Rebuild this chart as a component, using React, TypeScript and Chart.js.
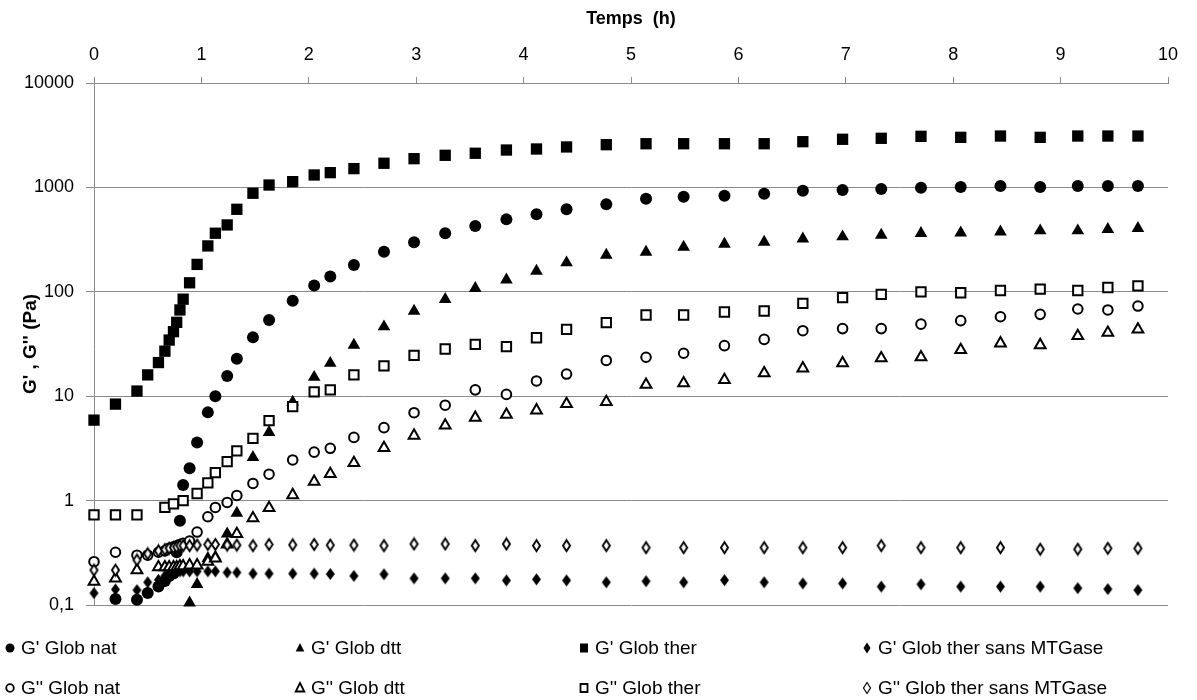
import React, { useEffect, useRef } from 'react';
import { Chart, registerables } from 'chart.js';

Chart.register(...registerables);

// ---- Data (time in hours, moduli in Pa) ----
const timeH = [0, 0.2, 0.4, 0.5, 0.6, 0.66, 0.7, 0.74, 0.77, 0.8, 0.83, 0.89, 0.96, 1.06, 1.13, 1.24, 1.33, 1.48, 1.63, 1.85, 2.05, 2.2, 2.42, 2.7, 2.98, 3.27, 3.55, 3.84, 4.12, 4.4, 4.77, 5.14, 5.49, 5.87, 6.24, 6.6, 6.97, 7.33, 7.7, 8.07, 8.44, 8.81, 9.16, 9.44, 9.72];

const gpGlobNat = [null, 0.114, 0.112, 0.13, 0.15, 0.17, 0.19, 0.2, 0.32, 0.64, 1.41, 2.04, 3.6, 7.0, 10, 15.6, 22.9, 36.6, 53.7, 82, 115, 140, 181, 242, 298, 363, 427, 494, 552, 617, 689, 780, 815, 832, 870, 930, 944, 966, 994, 1008, 1031, 1008, 1031, 1031, 1031];

const gpGlobDtt = [null, null, null, null, null, null, null, null, null, null, null, 0.105, 0.158, 0.28, 0.29, 0.48, 0.76, 2.6, 4.5, 8.8, 15.2, 20.7, 30.9, 46.3, 65.5, 84.7, 108, 130, 158, 190, 225, 240, 268, 287, 300, 322, 337, 350, 363, 368, 376, 385, 385, 397, 405];

const gpGlobTher = [5.9, 8.4, 11.2, 16, 21, 27, 34.5, 41.5, 51, 67, 85, 122, 183, 275, 364, 437, 617, 879, 1054, 1135, 1315, 1385, 1513, 1703, 1885, 2030, 2123, 2280, 2333, 2440, 2565, 2620, 2620, 2620, 2620, 2740, 2890, 2953, 3085, 3017, 3105, 3017, 3105, 3105, 3105];

const gpGlobTherSans = [0.13, 0.141, 0.139, 0.165, 0.174, 0.19, 0.2, 0.205, 0.21, 0.21, 0.21, 0.21, 0.21, 0.21, 0.21, 0.205, 0.205, 0.2, 0.2, 0.2, 0.2, 0.198, 0.19, 0.197, 0.18, 0.18, 0.18, 0.172, 0.176, 0.172, 0.165, 0.169, 0.165, 0.173, 0.165, 0.161, 0.161, 0.15, 0.158, 0.15, 0.15, 0.15, 0.145, 0.142, 0.139];

const gsGlobNat = [0.26, 0.32, 0.3, 0.3, 0.32, 0.33, 0.35, 0.36, 0.37, 0.38, 0.39, 0.41, 0.5, 0.7, 0.86, 0.96, 1.12, 1.46, 1.79, 2.45, 2.91, 3.17, 4.03, 5.0, 6.95, 8.2, 11.5, 10.4, 14, 16.3, 22, 23.6, 25.8, 30.5, 35, 42.4, 44.4, 44.4, 49, 52.9, 57.7, 60.8, 68.4, 67, 73];

const gsGlobDtt = [0.167, 0.18, 0.216, null, 0.23, 0.23, 0.23, 0.23, 0.23, 0.235, 0.235, 0.24, 0.24, 0.26, 0.28, 0.38, 0.48, 0.68, 0.85, 1.13, 1.52, 1.8, 2.3, 3.2, 4.2, 5.26, 6.22, 6.65, 7.33, 8.42, 8.8, 12.9, 13.3, 14.3, 16.6, 18.5, 20.7, 23.1, 23.6, 27.7, 32.1, 30.9, 37.8, 40.6, 43.7];

const gsGlobTher = [0.73, 0.73, 0.73, null, null, 0.86, null, 0.93, null, null, 1.0, null, 1.17, 1.48, 1.85, 2.36, 2.99, 3.95, 5.83, 7.95, 11.0, 11.5, 16, 19.5, 24.6, 28.3, 31.4, 29.8, 36.3, 43.7, 50.6, 60, 60, 64, 65.5, 77.6, 88, 94.6, 100, 98, 103, 106, 103, 110, 114];

const gsGlobTherSans = [0.216, 0.216, 0.27, 0.31, 0.33, 0.34, 0.35, 0.355, 0.36, 0.37, 0.37, 0.37, 0.375, 0.38, 0.38, 0.375, 0.375, 0.37, 0.38, 0.377, 0.38, 0.375, 0.375, 0.37, 0.384, 0.384, 0.37, 0.384, 0.37, 0.37, 0.37, 0.354, 0.354, 0.354, 0.354, 0.354, 0.354, 0.37, 0.354, 0.354, 0.354, 0.342, 0.342, 0.349, 0.349];

const yTickValues = [0.1, 1, 10, 100, 1000, 10000];
const xTitle = 'Temps  (h)';
const yTitle = "G' , G'' (Pa)";

const seriesLabels = [
  "G' Glob nat", "G' Glob dtt", "G' Glob ther", "G' Glob ther sans MTGase",
  "G'' Glob nat", "G'' Glob dtt", "G'' Glob ther", "G'' Glob ther sans MTGase",
];
const seriesValues = [gpGlobNat, gpGlobDtt, gpGlobTher, gpGlobTherSans, gsGlobNat, gsGlobDtt, gsGlobTher, gsGlobTherSans];
const seriesMarkers = ['circle', 'triangle', 'rect', 'diamond', 'circle', 'triangle', 'rect', 'diamond'];
const seriesFilled = [true, true, true, true, false, false, false, false];

const FONT = '"Liberation Sans", Arial, sans-serif';

function makeDiamond(filled: boolean, w: number, h: number, lw: number) {
  const c = document.createElement('canvas');
  c.width = w + 2;
  c.height = h + 2;
  const g = c.getContext('2d')!;
  const cx = c.width / 2, cy = c.height / 2;
  const inset = filled ? 0 : lw / 2;
  g.beginPath();
  g.moveTo(cx, cy - h / 2 + inset);
  g.lineTo(cx + w / 2 - inset, cy);
  g.lineTo(cx, cy + h / 2 - inset);
  g.lineTo(cx - w / 2 + inset, cy);
  g.closePath();
  if (filled) {
    g.fillStyle = '#000';
    g.fill();
  } else {
    g.fillStyle = '#fff';
    g.fill();
    g.lineWidth = lw;
    g.strokeStyle = '#000';
    g.stroke();
  }
  return c;
}

function drawLegendMarker(ctx: CanvasRenderingContext2D, kind: string, filled: boolean, x: number, y: number) {
  ctx.save();
  ctx.beginPath();
  if (kind === 'circle') {
    ctx.arc(x, y, filled ? 4.5 : 3.8, 0, Math.PI * 2);
  } else if (kind === 'triangle') {
    ctx.moveTo(x, y - 5);
    ctx.lineTo(x + 4.3, y + 3.5);
    ctx.lineTo(x - 4.3, y + 3.5);
    ctx.closePath();
  } else if (kind === 'rect') {
    const r = filled ? 4 : 3.5;
    ctx.rect(x - r, y - r - 0.5, 2 * r, 2 * r + 1);
  } else {
    ctx.moveTo(x, y - 5.5);
    ctx.lineTo(x + 3.5, y);
    ctx.lineTo(x, y + 5.5);
    ctx.lineTo(x - 3.5, y);
    ctx.closePath();
  }
  if (filled) {
    ctx.fillStyle = '#000';
    ctx.fill();
  } else {
    ctx.fillStyle = '#fff';
    ctx.fill();
    ctx.lineWidth = kind === 'diamond' ? 1.2 : 1.8;
    ctx.strokeStyle = '#000';
    ctx.stroke();
  }
  ctx.restore();
}

const legendColX = [10, 300, 584, 867];
const legendRowY = [648, 688];

const legendPlugin = {
  id: 'excelLegend',
  afterDraw(chart: any) {
    const ctx: CanvasRenderingContext2D = chart.ctx;
    ctx.save();
    ctx.font = '19px ' + FONT;
    ctx.fillStyle = '#000';
    ctx.textBaseline = 'middle';
    ctx.textAlign = 'left';
    seriesLabels.forEach((label, i) => {
      const col = i % 4;
      const row = Math.floor(i / 4);
      const x = legendColX[col];
      const y = legendRowY[row];
      drawLegendMarker(ctx, seriesMarkers[i], seriesFilled[i], x, y);
      ctx.fillText(label, x + 11, y + 1);
    });
    ctx.restore();
  },
};

export default function App() {
  const ref = useRef<HTMLCanvasElement | null>(null);

  useEffect(() => {
    if (!ref.current) return;
    const diamondFilled = makeDiamond(true, 9, 12, 0);
    const diamondOpen = makeDiamond(false, 9, 13, 1.9);

    const datasets = seriesLabels.map((label, i) => {
      const vals = seriesValues[i];
      const data = timeH
        .map((t, k) => (vals[k] == null ? null : { x: t, y: vals[k] as number }))
        .filter((p) => p !== null);
      const kind = seriesMarkers[i];
      const filled = seriesFilled[i];
      let pointStyle: any = kind;
      let radius = 6;
      let borderWidth = filled ? 0 : 2;
      if (kind === 'diamond') {
        pointStyle = filled ? diamondFilled : diamondOpen;
        radius = 6;
        borderWidth = 0;
      } else if (kind === 'rect') {
        radius = filled ? 8 : 6.6;
      } else if (kind === 'triangle') {
        radius = filled ? 7.3 : 6.2;
      } else if (kind === 'circle') {
        radius = filled ? 6 : 4.8;
      }
      return {
        label,
        data,
        showLine: false,
        pointStyle,
        pointRadius: radius,
        pointHoverRadius: radius,
        pointBorderWidth: borderWidth,
        pointBorderColor: '#000',
        pointBackgroundColor: filled ? '#000' : '#fff',
        borderColor: '#000',
        backgroundColor: filled ? '#000' : '#fff',
        order: 20 - i,
        clip: false as any,
      };
    });

    const chart = new Chart(ref.current, {
      type: 'scatter',
      data: { datasets: datasets as any },
      plugins: [legendPlugin],
      options: {
        animation: false,
        responsive: false,
        devicePixelRatio: 1,
        layout: { padding: { left: 0, top: 0, right: 29, bottom: 95 } },
        plugins: {
          legend: { display: false },
          tooltip: { enabled: false },
          title: { display: false },
        },
        scales: {
          x: {
            type: 'linear',
            position: 'top',
            min: 0,
            max: 10,
            afterFit: (scale: any) => { scale.height = 83; },
            ticks: {
              stepSize: 1,
              color: '#000',
              font: { family: FONT, size: 18 },
              padding: 11,
              maxRotation: 0,
            },
            grid: {
              drawOnChartArea: false,
              drawTicks: true,
              tickLength: 6,
              color: '#8a8a8a',
            },
            border: { display: true, color: '#8a8a8a', width: 1 },
            title: {
              display: true,
              text: xTitle,
              color: '#000',
              font: { family: FONT, size: 18, weight: 'bold' },
              padding: { top: 8, bottom: 0 },
            },
          },
          y: {
            type: 'logarithmic',
            position: 'left',
            min: 0.1,
            max: 10000,
            afterFit: (scale: any) => { scale.width = 94; },
            afterBuildTicks: (scale: any) => {
              scale.ticks = yTickValues.map((v) => ({ value: v }));
            },
            ticks: {
              color: '#000',
              font: { family: FONT, size: 18 },
              padding: 12,
              callback: (v: any) => (Number(v) === 0.1 ? '0,1' : String(Number(v))),
            },
            grid: {
              drawOnChartArea: true,
              drawTicks: true,
              tickLength: 8,
              color: '#8a8a8a',
            },
            border: { display: true, color: '#8a8a8a', width: 1 },
            title: {
              display: true,
              text: yTitle,
              color: '#000',
              font: { family: FONT, size: 19, weight: 'bold' },
              padding: { top: 19, bottom: 0 },
            },
          },
        },
      },
    });
    return () => chart.destroy();
  }, []);

  return (
    <div style={{ position: 'absolute', left: 0, top: 0, width: 1197, height: 700, background: '#fff' }}>
      <canvas ref={ref} width={1197} height={700} style={{ display: 'block', width: 1197, height: 700 }} />
    </div>
  );
}
